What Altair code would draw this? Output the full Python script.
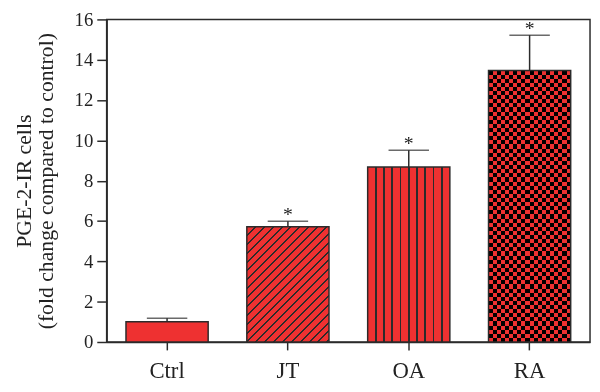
import math
import altair as alt
import pandas as pd

# ---- data ----
categories = ["Ctrl", "JT", "OA", "RA"]
means = [1.0, 5.72, 8.68, 13.47]
upper = [1.18, 5.99, 9.51, 15.22]
stars = ["", "*", "*", "*"]
y_ticks = [0, 2, 4, 6, 8, 10, 12, 14, 16]
y_title = ["PGE-2-IR cells", "(fold change compared to control)"]

df = pd.DataFrame({"group": categories, "mean": means, "upper": upper, "star": stars})

# ---- styling ----
RED = "#EE3131"
DARK = "#2b2b2b"
BLACK = "#000000"
FONT = "Liberation Serif"
W, H = 490, 327
YMAX = 16
PAD_INNER, PAD_OUTER = 0.32, 0.16
STEP = W / (len(categories) - PAD_INNER + 2 * PAD_OUTER)
BAR_W = STEP * (1 - PAD_INNER)


def bar_h(name):
    return means[categories.index(name)] / YMAX * H


def stop(o, c):
    return alt.GradientStop(offset=max(0.0, min(1.0, o)), color=c)


# OA: vertical lines
def vertical_lines(n, half):
    st = [stop(0, RED)]
    for k in range(1, n):
        c = k / n
        st += [stop(c - half, RED), stop(c - half, DARK), stop(c + half, DARK), stop(c + half, RED)]
    st.append(stop(1, RED))
    return alt.LinearGradient(gradient="linear", stops=st, x1=0, y1=0, x2=1, y2=0)


# JT: diagonal "/" hatching at 45 degrees in pixel space
def diagonal(w, h, period_px, half_px):
    D = w + h * h / w
    p = period_px / D
    d = half_px / D
    st = [stop(0, RED)]
    m = 1
    while m * p - d < 1:
        c = m * p
        st += [stop(c - d, RED), stop(c - d, DARK), stop(c + d, DARK), stop(c + d, RED)]
        m += 1
    st.append(stop(1, RED))
    return alt.LinearGradient(gradient="linear", stops=st, x1=0, y1=0, x2=1, y2=h / w)


# RA: checkerboard = vertical stripes XOR horizontal stripes (difference blend)
def band_stripes(n, c_a, c_b, vertical):
    st = []
    for k in range(n):
        col = c_a if k % 2 == 0 else c_b
        st += [stop(k / n, col), stop((k + 1) / n, col)]
    if vertical:
        return alt.LinearGradient(gradient="linear", stops=st, x1=0, y1=0, x2=1, y2=0)
    return alt.LinearGradient(gradient="linear", stops=st, x1=0, y1=0, x2=0, y2=1)


N_COLS = 20
cell = BAR_W / N_COLS
n_rows = max(1, round(bar_h("RA") / cell))

grad_oa = vertical_lines(10, 0.9 / BAR_W)
grad_jt = diagonal(BAR_W, bar_h("JT"), 9.0, 1.0)
grad_ra_cols = band_stripes(N_COLS, BLACK, RED, True)
grad_ra_rows = band_stripes(n_rows, BLACK, RED, False)

x_enc = alt.X(
    "group:N",
    sort=categories,
    scale=alt.Scale(paddingInner=PAD_INNER, paddingOuter=PAD_OUTER),
    axis=alt.Axis(title=None, labelAngle=0, tickSize=8, labelPadding=10, labelFontSize=23),
)
y_scale = alt.Scale(domain=[0, YMAX], nice=False, zero=True)
y_axis = alt.Axis(
    values=y_ticks,
    title=y_title,
    grid=False,
    tickSize=10,
    labelPadding=4,
    labelFontSize=19,
    titleFontSize=22,
    titleLineHeight=22,
    titleX=-72,
    titleY=H / 2,
    titleAngle=270,
    titleBaseline="bottom",
    titleAlign="center",
)


def Y(field):
    return alt.Y(field, scale=y_scale, axis=y_axis)


base = alt.Chart(df)

bars = base.mark_bar(fill=RED).encode(x=x_enc, y=Y("mean:Q"))
jt = base.transform_filter(alt.datum.group == "JT").mark_bar(fill=grad_jt).encode(x=x_enc, y=Y("mean:Q"))
oa = base.transform_filter(alt.datum.group == "OA").mark_bar(fill=grad_oa).encode(x=x_enc, y=Y("mean:Q"))
ra1 = base.transform_filter(alt.datum.group == "RA").mark_bar(fill=grad_ra_cols).encode(x=x_enc, y=Y("mean:Q"))
ra2 = (
    base.transform_filter(alt.datum.group == "RA")
    .mark_bar(fill=grad_ra_rows, blend="difference")
    .encode(x=x_enc, y=Y("mean:Q"))
)
outline = base.mark_bar(fillOpacity=0, stroke=DARK, strokeWidth=1.5).encode(x=x_enc, y=Y("mean:Q"))

err = base.mark_rule(color=DARK, strokeWidth=1.5).encode(x=x_enc, y=Y("mean:Q"), y2="upper:Q")
cap = base.mark_tick(color=DARK, thickness=1.5, size=41, orient="horizontal").encode(x=x_enc, y=Y("upper:Q"))
star = base.mark_text(font=FONT, fontSize=20, baseline="alphabetic", dy=0, color="#222").encode(
    x=x_enc, y=Y("upper:Q"), text="star:N"
)

chart = (
    alt.layer(bars, jt, oa, ra1, ra2, outline, err, cap, star)
    .properties(
        width=W,
        height=H,
        autosize=alt.AutoSizeParams(type="none"),
        padding={"left": 100, "top": 9, "right": 2, "bottom": 40},
    )
    .configure_view(stroke=DARK, strokeWidth=1.5)
    .configure_axis(
        labelFont=FONT,
        titleFont=FONT,
        titleFontWeight="normal",
        labelColor="#222",
        titleColor="#222",
        domainColor=DARK,
        domainWidth=1.5,
        tickColor=DARK,
        tickWidth=1.5,
    )
)

chart.save("out.html", embed_options={"renderer": "svg", "actions": False})
